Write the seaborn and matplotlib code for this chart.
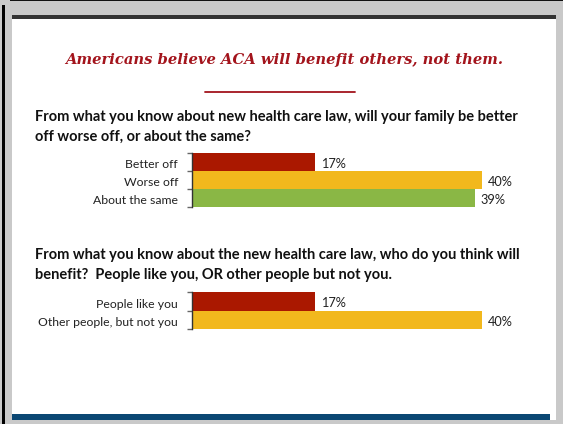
import matplotlib
matplotlib.use("Agg")
import matplotlib.pyplot as plt
import matplotlib.patches as mpatches
import matplotlib.lines as mlines
import matplotlib.transforms as mtransforms
import seaborn as sns
import pandas as pd

# Survey results
family_labels = ["Better off", "Worse off", "About the same"]
family_values = [17, 40, 39]
benefit_labels = ["People like you", "Other people, but not you"]
benefit_values = [17, 40]

title = "Americans believe ACA will benefit others, not them."
question1 = ["From what you know about new health care law, will your family be better",
             "off worse off, or about the same?"]
question2 = ["From what you know about the new health care law, who do you think will",
             "benefit?  People like you, OR other people but not you."]

RED = "#aa1800"
YELLOW = "#f2b81d"
GREEN = "#8ab745"
TITLE_RED = "#a3141c"

sns.set_theme(style="white")
plt.rcParams["font.family"] = ["Lato", "DejaVu Sans"]

W, H = 563, 424
fig = plt.figure(figsize=(W / 100, H / 100), dpi=100)
fig.patch.set_facecolor("#c9c9c9")


def fx(x):
    return x / W


def fy(y):
    return 1 - y / H


def rect(x0, y0, x1, y1, color):
    fig.patches.append(mpatches.Rectangle((fx(x0), fy(y1)), fx(x1) - fx(x0), fy(y0) - fy(y1),
                                          transform=fig.transFigure, facecolor=color,
                                          edgecolor="none", zorder=-5))


# slide frame
rect(2, 5, 4.5, 424, "#000000")
rect(10, 0, 563, 1.2, "#111111")
rect(12, 15, 556, 420, "#ffffff")
rect(12, 15, 556, 18.5, "#333333")
rect(12, 413.5, 550, 419.5, "#0b4773")

# headline and its rule
fig.text(fx(284), fy(60), title, ha="center", va="center", color=TITLE_RED,
         fontsize=10.65, fontweight="bold", fontstyle="italic", family=["DejaVu Serif"])
fig.lines.append(mlines.Line2D([fx(205), fx(355)], [fy(92), fy(92)], transform=fig.transFigure,
                               color=TITLE_RED, linewidth=1.3))

# question texts
for i, line in enumerate(question1):
    fig.text(fx(35), fy(117 + 20 * i), line, ha="left", va="center", color="#111111",
             fontsize=10.55, fontweight="bold")
for i, line in enumerate(question2):
    fig.text(fx(35), fy(255 + 20 * i), line, ha="left", va="center", color="#111111",
             fontsize=10.55, fontweight="bold")

PX_PER_PCT = 7.25
X0 = 192
XMAX = 50
# category labels sit slightly below the bar centres
shift_down = mtransforms.ScaledTranslation(0, -2 / 100, fig.dpi_scale_trans)


def draw_panel(labels, values, colors, top, bottom):
    ax = fig.add_axes([fx(X0), fy(bottom), XMAX * PX_PER_PCT / W, (bottom - top) / H])
    ax.set_facecolor("none")
    df = pd.DataFrame({"label": labels, "value": values})
    sns.barplot(data=df, x="value", y="label", hue="label", palette=colors, legend=False,
                width=1.0, orient="h", ax=ax, saturation=1, linewidth=0)
    ax.set_xlim(0, XMAX)
    ax.set_ylim(len(labels) - 0.5, -0.5)
    ax.set_xlabel("")
    ax.set_ylabel("")
    ax.set_xticks([])
    for s in ["top", "right", "bottom"]:
        ax.spines[s].set_visible(False)
    ax.spines["left"].set_color("#333333")
    ax.spines["left"].set_linewidth(1.0)
    ax.spines["left"].set_zorder(5)
    ax.set_yticks(range(len(labels)))
    ax.set_yticklabels(labels)
    ax.set_yticks([i - 0.5 for i in range(len(labels) + 1)], minor=True)
    ax.tick_params(axis="y", which="major", length=0, pad=10, labelsize=8.8, labelcolor="#222222")
    ax.tick_params(axis="y", which="minor", length=3.5, width=1, color="#666666", left=True)
    for lbl in ax.get_yticklabels():
        lbl.set_transform(lbl.get_transform() + shift_down)
    for c in ax.containers:
        texts = ax.bar_label(c, labels=[f"{int(round(v))}%" for v in c.datavalues], padding=4,
                             fontsize=9.2, color="#222222")
        for t in texts:
            t.xyann = (4, -1.6)
    return ax


draw_panel(family_labels, family_values, [RED, YELLOW, GREEN], 153, 207)
draw_panel(benefit_labels, benefit_values, [RED, YELLOW], 292, 329)

fig.savefig("out.png", dpi=100, facecolor=fig.get_facecolor())
